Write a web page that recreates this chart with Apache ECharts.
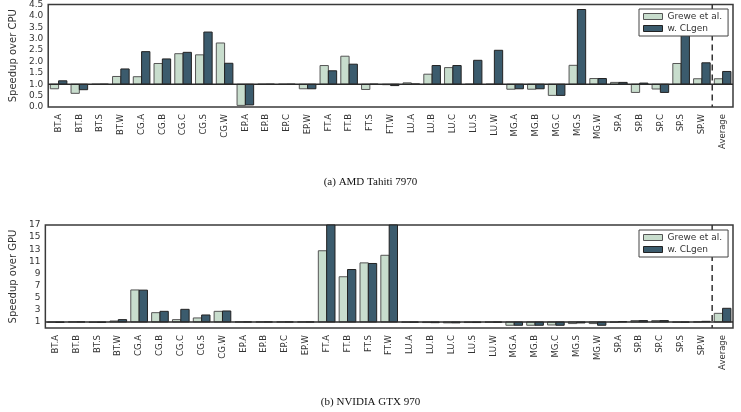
<!DOCTYPE html>
<html><head><meta charset="utf-8">
<script src="https://cdn.jsdelivr.net/npm/echarts@6/dist/echarts.min.js"></script>
<style>html,body{margin:0;padding:0;background:#fff}#c{width:741px;height:412px}</style>
</head><body><div id="c"></div>
<script>
const categories = ['BT.A','BT.B','BT.S','BT.W','CG.A','CG.B','CG.C','CG.S','CG.W','EP.A','EP.B','EP.C','EP.W','FT.A','FT.B','FT.S','FT.W','LU.A','LU.B','LU.C','LU.S','LU.W','MG.A','MG.B','MG.C','MG.S','MG.W','SP.A','SP.B','SP.C','SP.S','SP.W','Average'];
const seriesNames = ['Grewe et al.', 'w. CLgen'];
// (a) AMD Tahiti 7970 — speedup over CPU
const tahitiGrewe = [0.80,0.60,1.00,1.34,1.33,1.91,2.34,2.29,2.81,0.07,1.00,1.00,0.80,1.82,2.23,0.77,0.98,1.06,1.44,1.73,1.00,1.00,0.78,0.78,0.51,1.83,1.25,1.08,0.64,0.79,1.91,1.24,1.24];
const tahitiClgen = [1.15,0.76,1.00,1.67,2.43,2.11,2.40,3.29,1.92,0.09,1.00,1.00,0.80,1.59,1.88,1.00,0.94,1.01,1.82,1.82,2.05,2.49,0.80,0.80,0.51,4.28,1.25,1.08,1.05,0.64,3.60,1.94,1.56];
// (b) NVIDIA GTX 970 — speedup over GPU
const gtxGrewe = [0.95,1.00,0.92,1.16,6.28,2.53,1.38,1.66,2.75,1.00,1.00,1.00,1.00,12.75,8.46,10.75,12.00,0.95,0.90,0.85,0.90,0.95,0.45,0.45,0.50,0.73,0.73,0.95,1.22,1.22,0.95,1.00,2.42];
const gtxClgen = [0.92,1.00,0.92,1.38,6.25,2.75,3.08,2.15,2.81,1.00,1.00,1.00,1.00,18.00,9.65,10.65,18.00,0.95,0.88,0.85,0.90,0.95,0.45,0.45,0.45,0.84,0.45,1.05,1.22,1.22,0.95,1.10,3.25];
const tahitiTicks = {min: 0, max: 4.5, step: 0.5};
const gtxTicks = {min: 0, max: 17, step: 1};
const baseline = 1;

const fills = ['#c8ddcd', '#3b5b6d'];
const edges = ['#555555', '#222222'];
const FONT = 'DejaVu Sans';

function barRender(slot) {
  return function (params, api) {
    const idx = api.value(0), v = api.value(1);
    const p1 = api.coord([idx, v]);
    const p0 = api.coord([idx, baseline]);
    const bw = api.size([1, 0])[0];
    const w = bw * 0.4;
    const x = p0[0] - w + slot * w;
    const shape = echarts.graphic.clipRectByRect(
      {x: x, y: Math.min(p0[1], p1[1]), width: w, height: Math.abs(p1[1] - p0[1])},
      {x: params.coordSys.x, y: params.coordSys.y, width: params.coordSys.width, height: params.coordSys.height});
    if (!shape) return;
    return {type: 'rect', shape: shape, style: {fill: fills[slot], stroke: edges[slot], lineWidth: 1}};
  };
}
function frameRender(params, api) {
  const idx = api.value(0);
  const p = api.coord([idx, baseline]);
  const bw = api.size([1, 0])[0];
  const cs = params.coordSys;
  const xd = p[0] - bw / 2;
  return {type: 'group', children: [
    {type: 'line', shape: {x1: cs.x, y1: p[1], x2: cs.x + cs.width, y2: p[1]}, style: {stroke: '#2a2a2a', lineWidth: 1.5}},
    {type: 'line', shape: {x1: xd, y1: cs.y, x2: xd, y2: cs.y + cs.height}, style: {stroke: '#333', lineWidth: 1.5, lineDash: [6, 4]}}
  ]};
}
const avgIdx = categories.indexOf('Average');

function xAxis(gi) {
  return {type: 'category', gridIndex: gi, data: categories, boundaryGap: true,
    axisLine: {show: false}, axisTick: {show: false},
    axisLabel: {rotate: 90, interval: 0, fontSize: 8.5, fontFamily: FONT, color: '#333', margin: 7}};
}
function yAxis(gi, t, name, gap, fmt) {
  return {type: 'value', gridIndex: gi, min: t.min, max: t.max, interval: t.step,
    name: name, nameLocation: 'middle', nameGap: gap,
    nameTextStyle: {fontSize: 10, fontFamily: FONT, color: '#333'},
    axisLine: {show: false}, axisTick: {show: false}, splitLine: {show: false},
    axisLabel: {fontSize: 9, fontFamily: FONT, color: '#333', margin: 5, formatter: fmt}};
}
function bars(gi, vals, slot) {
  return {type: 'custom', name: seriesNames[slot], xAxisIndex: gi, yAxisIndex: gi,
    itemStyle: {color: fills[slot], borderColor: edges[slot], borderWidth: 1},
    renderItem: barRender(slot), encode: {x: 0, y: 1},
    data: vals.map((v, i) => [i, v]), z: 2};
}
function frame(gi) {
  return {type: 'custom', name: 'frame' + gi, xAxisIndex: gi, yAxisIndex: gi, silent: true,
    renderItem: frameRender, encode: {x: 0, y: 1}, data: [[avgIdx, baseline]], z: 3};
}
function legend(top) {
  return {left: 639, top: top, orient: 'vertical', itemWidth: 19, itemHeight: 6, itemGap: 3,
    padding: [3, 6, 3, 4], backgroundColor: '#fff', borderColor: '#444', borderWidth: 1, borderRadius: 0,
    icon: 'rect', textStyle: {fontSize: 9, fontFamily: FONT, color: '#333'},
    data: seriesNames.map((n, k) => ({name: n, itemStyle: {color: fills[k], borderColor: edges[k], borderWidth: 1}}))};
}

const chart = echarts.init(document.getElementById('c'), null, {renderer: 'canvas'});
chart.setOption({
  animation: false,
  backgroundColor: '#fff',
  title: [
    {text: '(a) AMD Tahiti 7970', left: 'center', top: 172, textStyle: {fontFamily: 'Liberation Serif', fontSize: 11, fontWeight: 'normal', color: '#111'}},
    {text: '(b) NVIDIA GTX 970', left: 'center', top: 392, textStyle: {fontFamily: 'Liberation Serif', fontSize: 11, fontWeight: 'normal', color: '#111'}}
  ],
  legend: [legend(9), legend(230)],
  grid: [
    {left: 48, right: 8, top: 4, height: 103, show: true, borderColor: '#3a3a3a', borderWidth: 1.5, backgroundColor: '#fff'},
    {left: 45, right: 8, top: 225, height: 103, show: true, borderColor: '#3a3a3a', borderWidth: 1.5, backgroundColor: '#fff'}
  ],
  xAxis: [xAxis(0), xAxis(1)],
  yAxis: [
    yAxis(0, tahitiTicks, 'Speedup over CPU', 26, v => v.toFixed(1)),
    yAxis(1, gtxTicks, 'Speedup over GPU', 21, v => (Math.round(v) % 2 === 1 ? String(Math.round(v)) : ''))
  ],
  series: [
    bars(0, tahitiGrewe, 0), bars(0, tahitiClgen, 1), frame(0),
    bars(1, gtxGrewe, 0), bars(1, gtxClgen, 1), frame(1)
  ]
});
</script></body></html>
